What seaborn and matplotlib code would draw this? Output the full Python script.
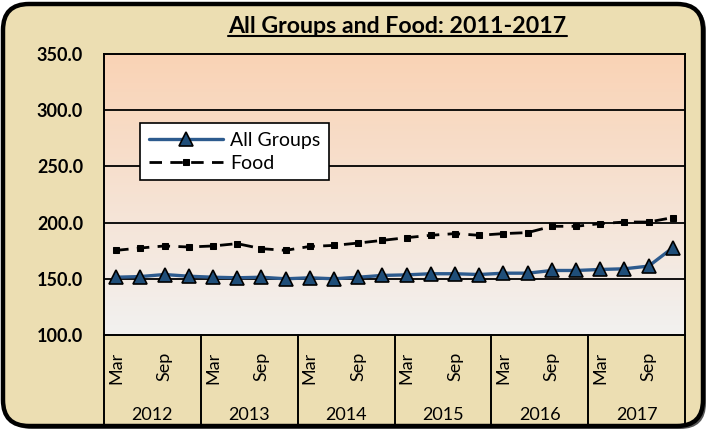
import numpy as np
import pandas as pd
import matplotlib
matplotlib.use("Agg")
import matplotlib.pyplot as plt
import matplotlib.transforms as mtransforms
from matplotlib.patches import FancyBboxPatch
import seaborn as sns

# ---- data ----
years = ["2012", "2013", "2014", "2015", "2016", "2017"]
months = ["Mar", "Jun", "Sep", "Dec"]
shown_months = ["Mar", "", "Sep", ""]
all_groups = [151.4, 152.0, 153.8, 152.3, 151.4, 150.9, 151.4, 150.0, 150.9, 150.0,
              151.4, 153.0, 153.5, 154.5, 154.5, 153.8, 155.0, 155.0, 157.4, 157.4,
              158.3, 158.9, 161.3, 177.7]
food = [175.3, 177.4, 179.2, 178.3, 179.2, 181.3, 176.8, 175.3, 178.8, 179.7,
        181.8, 184.2, 186.6, 188.7, 190.2, 188.7, 190.2, 191.1, 196.7, 196.7,
        199.1, 200.5, 200.5, 204.5]
y_ticks = [100, 150, 200, 250, 300, 350]
title = "All Groups and Food: 2011-2017"

tick_labels = [m for y in years for m in shown_months]
df = pd.DataFrame({"idx": np.arange(len(all_groups)),
                   "All Groups": all_groups, "Food": food})

sns.set_theme(style="white")
plt.rcParams["font.family"] = ["Lato", "DejaVu Sans"]
plt.rcParams["text.color"] = "black"
plt.rcParams["xtick.color"] = "black"
plt.rcParams["ytick.color"] = "black"
plt.rcParams["axes.labelcolor"] = "black"

W, H, DPI = 709, 430, 100
fig = plt.figure(figsize=(W / DPI, H / DPI), dpi=DPI, facecolor="white")

# papyrus-like frame with rounded black border and shadow
shadow = FancyBboxPatch((6 / DPI, 1 / DPI), (W - 9) / DPI, (H - 6) / DPI,
                        boxstyle="round,pad=0,rounding_size=0.26",
                        transform=fig.dpi_scale_trans, facecolor="#555555",
                        edgecolor="none", zorder=-3)
frame = FancyBboxPatch((3 / DPI, 4 / DPI), (W - 9) / DPI, (H - 8) / DPI,
                       boxstyle="round,pad=0,rounding_size=0.26",
                       transform=fig.dpi_scale_trans, facecolor="#ECDEB2",
                       edgecolor="black", linewidth=3.2, zorder=-2)
fig.patches.extend([shadow, frame])

left, right, top, bottom = 104, 685, 54, 335
ax = fig.add_axes([left / W, 1 - bottom / H, (right - left) / W, (bottom - top) / H])
ax.set_facecolor("none")
ax.set_zorder(1)

# gradient background for plot area
grad = np.linspace(0, 1, 256)[:, None]
c_top = np.array([250, 211, 181]) / 255
c_bot = np.array([242, 241, 240]) / 255
img = c_top[None, None, :] * (1 - grad[:, :, None]) + c_bot[None, None, :] * grad[:, :, None]
ax.imshow(img, extent=[0, 1, 0, 1], transform=ax.transAxes, aspect="auto", zorder=0)

ax.set_ylim(100, 350)
ax.set_xlim(-0.5, len(all_groups) - 0.5)
for yv in y_ticks[1:-1]:
    ax.axhline(yv, color="black", lw=1.3, zorder=1)

sns.lineplot(data=df, x="idx", y="All Groups", ax=ax, color="#2D5B8E", lw=2.4,
             marker="^", markersize=9.5, markerfacecolor="#1F4E79",
             markeredgecolor="black", markeredgewidth=1.2, label="All Groups", zorder=4)
sns.lineplot(data=df, x="idx", y="Food", ax=ax, color="black", lw=2.0,
             linestyle=(0, (4.5, 3)), marker="s", markersize=5, markerfacecolor="black",
             markeredgecolor="black", label="Food", zorder=3)

ax.set_xlabel("")
ax.set_ylabel("")
ax.tick_params(axis="y", length=0, pad=15, labelsize=13)
ax.tick_params(axis="x", length=0, pad=12, labelsize=13, labelrotation=90)
ax.set_yticks(y_ticks)
ax.set_yticklabels([f"{v:.1f}" for v in y_ticks])
ax.set_xticks(range(len(tick_labels)))
ax.set_xticklabels(tick_labels)
for lbl in ax.get_yticklabels():
    lbl.set_fontweight("bold")
for s in ax.spines.values():
    s.set_color("black")
    s.set_linewidth(1.4)
    s.set_visible(True)

# year group separators and labels
trans = mtransforms.blended_transform_factory(ax.transData, ax.transAxes)
ybot = (bottom - 425) / (bottom - top)
for k in range(len(years) + 1):
    xs = 4 * k - 0.5
    ax.plot([xs, xs], [0, ybot], transform=trans, color="black", lw=1.4, clip_on=False)
for k, yr in enumerate(years):
    ax.text(4 * k + 1.5, (bottom - 415) / (bottom - top), yr, transform=trans,
            ha="center", va="center", fontsize=13)

leg = ax.legend(loc="upper left", bbox_to_anchor=((140 - left) / (right - left), (bottom - 123) / (bottom - top)),
                fontsize=14, frameon=True, fancybox=False, handlelength=3.8,
                borderaxespad=0, borderpad=0.45, labelspacing=0.3, handletextpad=0.4)
leg.get_frame().set_edgecolor("black")
leg.get_frame().set_linewidth(1.2)
leg.get_frame().set_facecolor("white")
leg.get_frame().set_alpha(1)

fig.text(397 / W, 1 - 26.5 / H, title, ha="center", va="center", fontsize=16.7,
         fontweight="bold")
# underline
fig.add_artist(plt.Line2D([228 / W, 567 / W], [1 - 35.5 / H, 1 - 35.5 / H],
                          color="black", lw=1.5, transform=fig.transFigure))

fig.savefig("out.png", dpi=DPI, facecolor="white")
